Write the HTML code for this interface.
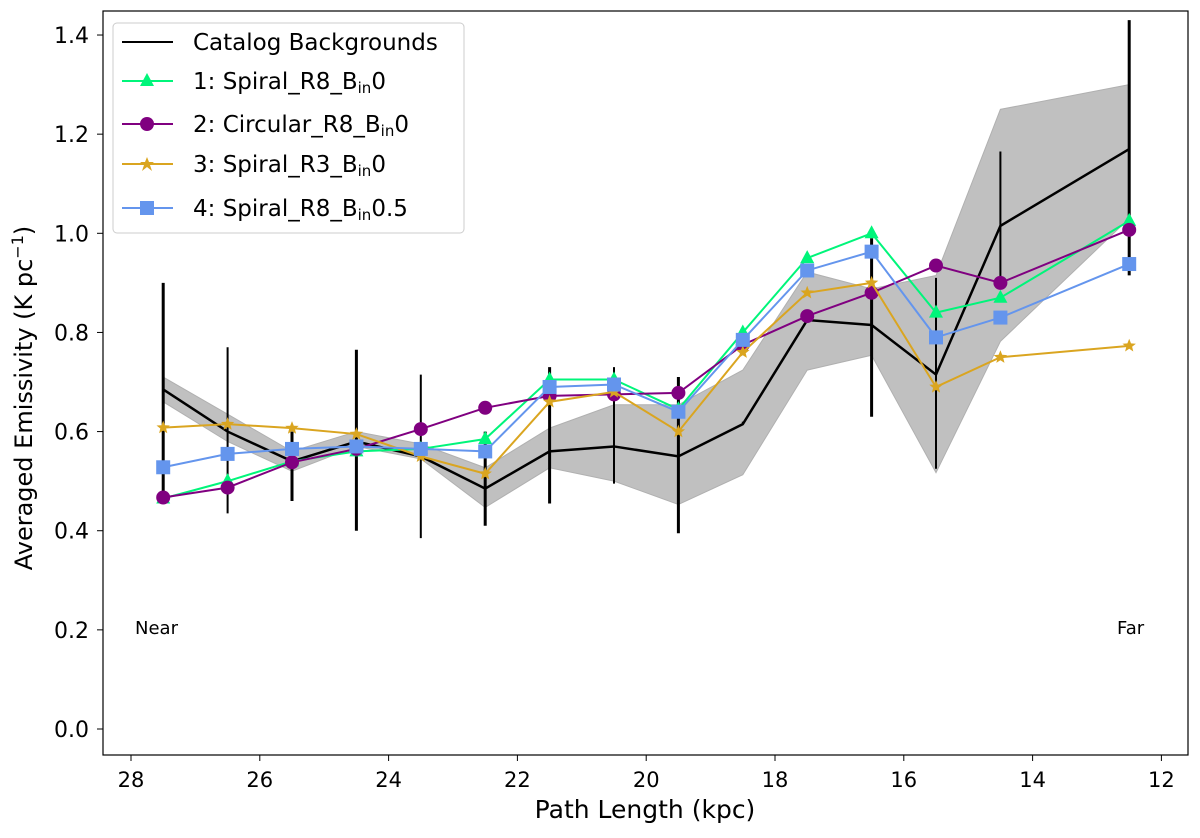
<!DOCTYPE html>
<html><head><meta charset="utf-8"><style>
body{margin:0;background:#fff}
svg text{font-family:"DejaVu Sans","Liberation Sans",sans-serif}
</style></head><body>
<svg id="chart" width="1200" height="833" xmlns="http://www.w3.org/2000/svg"></svg>
<script>
const xs=[27.5,26.5,25.5,24.5,23.5,22.5,21.5,20.5,19.5,18.5,17.5,16.5,15.5,14.5,12.5];
const catalog=[0.685,0.60,0.54,0.58,0.55,0.485,0.56,0.57,0.55,0.615,0.825,0.815,0.715,1.015,1.17];
const bandHi=[0.71,0.635,0.56,0.60,0.575,0.527,0.607,0.654,0.654,0.724,0.922,0.888,0.915,1.25,1.30];
const bandLo=[0.66,0.58,0.52,0.57,0.545,0.447,0.527,0.50,0.453,0.513,0.724,0.754,0.517,0.782,1.03];
const errHi=[0.90,0.77,0.60,0.765,0.715,0.60,0.73,0.73,0.71,0.62,0.825,0.99,0.91,1.165,1.43];
const errLo=[0.465,0.435,0.46,0.40,0.385,0.41,0.455,0.495,0.395,0.615,0.825,0.63,0.525,0.90,0.915];
const errW=[3,2,3,3,2,3,3,2,3,2,2,3,2,2,3];
const s1=[0.465,0.50,0.54,0.56,0.565,0.585,0.705,0.705,0.645,0.80,0.95,1.0,0.84,0.87,1.025];
const s2=[0.467,0.487,0.538,0.565,0.605,0.648,0.672,0.675,0.678,0.775,0.833,0.88,0.935,0.90,1.007];
const s3=[0.608,0.615,0.607,0.595,0.55,0.515,0.66,0.68,0.60,0.76,0.88,0.90,0.69,0.75,0.773];
const s4=[0.528,0.555,0.565,0.57,0.565,0.56,0.69,0.695,0.64,0.785,0.925,0.963,0.79,0.83,0.938];
const xTicks=[28,26,24,22,20,18,16,14,12];
const yTicks=[0.0,0.2,0.4,0.6,0.8,1.0,1.2,1.4];
const X=v=>131+(28-v)*64.4, Y=v=>729-v*495.7;
const svg=document.getElementById('chart'),NS='http://www.w3.org/2000/svg';
function mk(t,a,txt){const e=document.createElementNS(NS,t);for(const k in a)e.setAttribute(k,a[k]);if(txt!=null)e.textContent=txt;svg.appendChild(e);return e;}
let pts=xs.map((x,i)=>X(x)+','+Y(bandHi[i])).concat(xs.map((x,i)=>X(x)+','+Y(bandLo[i])).reverse()).join(' ');
let b=mk('polygon',{points:pts,fill:'#c0c0c0',stroke:'#b0b0b0','stroke-width':1});


xs.forEach((x,i)=>{const e=mk('line',{x1:X(x),x2:X(x),y1:Y(errHi[i]),y2:Y(errLo[i]),stroke:'#000','stroke-width':errW[i]});

});
let c=mk('polyline',{points:xs.map((x,i)=>X(x)+','+Y(catalog[i])).join(' '),fill:'none',stroke:'#000','stroke-width':2.5});


function marker(type,cx,cy,col){
 if(type==='tri')return mk('polygon',{points:`${cx},${cy-8} ${cx-7},${cy+5} ${cx+7},${cy+5}`,fill:col});
 if(type==='circ')return mk('circle',{cx,cy,r:7,fill:col});
 if(type==='sq')return mk('rect',{x:cx-7,y:cy-7,width:14,height:14,fill:col});
 let p=[];for(let k=0;k<10;k++){const r=k%2?3:7,a=-Math.PI/2+k*Math.PI/5;p.push((cx+r*Math.cos(a)).toFixed(1)+','+(cy+r*Math.sin(a)).toFixed(1));}
 return mk('polygon',{points:p.join(' '),fill:col});
}
const series=[[s1,'#00f57a','tri','series-1'],[s2,'#800080','circ','series-2'],[s3,'#daa520','star','series-3'],[s4,'#6495ed','sq','series-4']];
series.forEach(([d,col,m,n])=>{
 const l=mk('polyline',{points:xs.map((x,i)=>X(x)+','+Y(d[i])).join(' '),fill:'none',stroke:col,'stroke-width':2});
 
 
 xs.forEach((x,i)=>{const e=marker(m,X(x),Y(d[i]),col);
 
 });
});
let f=mk('rect',{x:103,y:11,width:1085,height:744,fill:'none',stroke:'#000','stroke-width':1.2});


xTicks.forEach(t=>{const l=mk('line',{x1:X(t),x2:X(t),y1:755,y2:761,stroke:'#000'});
 
 
 const e=mk('text',{x:X(t),y:787,'font-size':21,'text-anchor':'middle'},String(t));
 
 });
yTicks.forEach(t=>{const l=mk('line',{x1:97,x2:103,y1:Y(t),y2:Y(t),stroke:'#000'});
 
 
 const e=mk('text',{x:89,y:Y(t)+8,'font-size':22,'text-anchor':'end'},t.toFixed(1));
 
 });
</script>
<svg width="1200" height="833" style="position:absolute;left:0;top:0" xmlns="http://www.w3.org/2000/svg">
<text x="645" y="818" font-size="25" text-anchor="middle" font-family="DejaVu Sans,sans-serif">Path Length (kpc)</text>
<text transform="translate(32,398) rotate(-90)" font-size="24" text-anchor="middle" font-family="DejaVu Sans,sans-serif">Averaged Emissivity (K pc<tspan baseline-shift="super" font-size="16">−1</tspan>)</text>
<text x="135" y="634" font-size="18" font-family="DejaVu Sans,sans-serif">Near</text>
<text x="1117" y="634" font-size="18" font-family="DejaVu Sans,sans-serif">Far</text>
<g font-family="DejaVu Sans,sans-serif" font-size="23">
<rect x="113" y="23" width="351" height="210" rx="4" fill="#fff" fill-opacity="0.85" stroke="#ccc"/>
<line x1="122" x2="173" y1="42" y2="42" stroke="#000" stroke-width="2"/>
<text x="193" y="50">Catalog Backgrounds</text>
<line x1="122" x2="173" y1="81" y2="81" stroke="#00f57a" stroke-width="2"/><polygon points="147,73 140,86 154,86" fill="#00f57a"/>
<text x="193" y="89">1: Spiral_R8_B<tspan font-size="15" dy="4">in</tspan><tspan dy="-4">0</tspan></text>
<line x1="122" x2="173" y1="124" y2="124" stroke="#800080" stroke-width="2"/><circle cx="147" cy="124" r="7" fill="#800080"/>
<text x="193" y="132">2: Circular_R8_B<tspan font-size="15" dy="4">in</tspan><tspan dy="-4">0</tspan></text>
<line x1="122" x2="173" y1="164" y2="164" stroke="#daa520" stroke-width="2"/><polygon points="147,157 149,162 154,162 150,165 152,171 147,167 142,171 144,165 140,162 145,162" fill="#daa520"/>
<text x="193" y="172">3: Spiral_R3_B<tspan font-size="15" dy="4">in</tspan><tspan dy="-4">0</tspan></text>
<line x1="122" x2="173" y1="208" y2="208" stroke="#6495ed" stroke-width="2"/><rect x="140" y="201" width="14" height="14" fill="#6495ed"/>
<text x="193" y="216">4: Spiral_R8_B<tspan font-size="15" dy="4">in</tspan><tspan dy="-4">0.5</tspan></text>
</g>
</svg>
</body></html>
